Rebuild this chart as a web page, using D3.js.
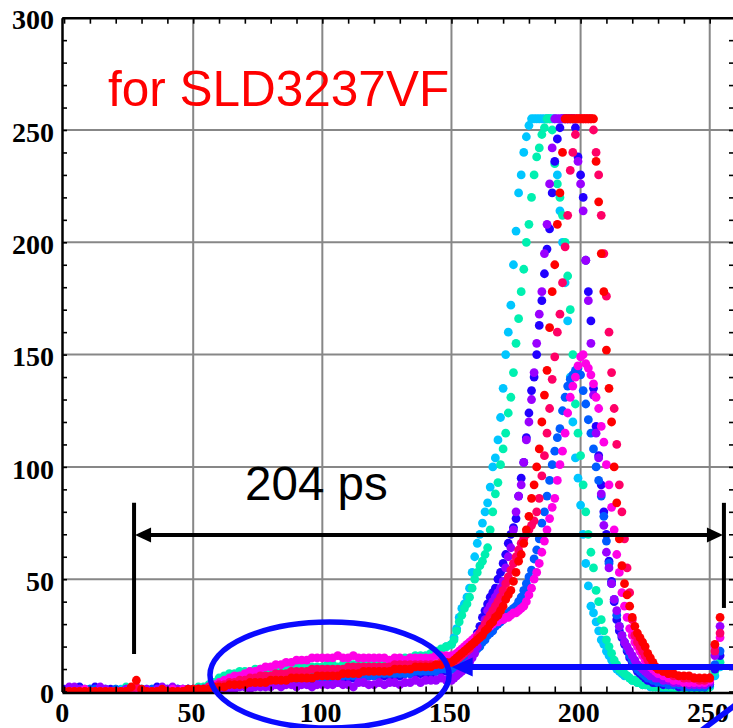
<!DOCTYPE html>
<html><head><meta charset="utf-8">
<script src="https://cdn.jsdelivr.net/npm/d3@7"></script>
<style>body{margin:0;background:#fff}svg{display:block}</style>
</head><body>
<svg id="chart" width="733" height="728"></svg>
<script>
// ---------- data ----------
const xTickLabels = [0, 50, 100, 150, 200, 250];
const yTickLabels = [0, 50, 100, 150, 200, 250, 300];
const xMinorTicks = [0,10,20,30,40,50,60,70,80,90,100,110,120,130,140,150,160,170,180,190,200,210,220,230,240,250];
const yMinorTicks = [0,10,20,30,40,50,60,70,80,90,100,110,120,130,140,150,160,170,180,190,200,210,220,230,240,250,260,270,280,290,300];

const sampleT = [
0,2,4,6,8,10,12,14,16,18,
20,22,24,26,28,30,32,34,36,38,
40,42,44,46,48,50,52,54,56,58,
60,62,64,66,68,70,72,74,76,78,
80,82,84,86,88,90,92,94,96,98,
100,102,104,106,108,110,112,114,116,118,
120,122,124,126,128,130,132,134,136,138,
140,142,144,146,148,
150,151,152,153,154,155,156,157,158,159,
160,161,162,163,164,165,166,167,168,169,
170,171,172,173,174,175,176,177,178,179,
180,181,182,183,184,185,186,187,188,189,
190,191,192,193,194,195,196,197,198,199,
200,201,202,203,204,205,206,207,208,209,
210,211,212,213,214,215,216,217,218,219,
220,221,222,223,224,225,226,227,228,229,
230,
232,234,236,238,240,242,244,246,248,250,252,254];

const cyanY = [
0,1,0,1,0,1,0,0,1,0, 0,1,0,1,1,0,1,0,1,0, 1,0,1,1,0,1,1,1,2,2, 3,3,4,4,5,5,5,6,6,6,
6,7,7,7,7,7,8,8,8,8, 8,8,9,9,9,9,9,10,10,10, 10,11,11,12,12,13,13,14,14,15, 15,16,17,18,20,
21,24,28,33,37,39,42,46,53,60, 66,70,75,80,84,91,100,104,112,122,
135,150,160,172,190,205,222,230,240,247, 252,255,255,255,255,255,255,255,255,255,
255,230,214,200,182,165,140,120,104,95, 83,70,57,47,38,35,31,27,23,21,
18,16,14,12,10,9,8,7,7,6, 5,5,4,4,3,3,3,2,2,2, 2,
1,1,1,1,1,1,1,1,1,2,7,11];

const aquaY = [
0,0,1,0,0,1,0,1,0,0, 1,0,2,1,0,1,0,1,0,1, 0,1,1,0,1,1,2,2,3,4, 6,7,8,8,9,9,9,10,10,10,
10,10,10,10,11,11,11,11,11,11, 11,12,12,11,12,12,12,12,12,12, 12,13,13,13,14,14,15,15,16,16, 16,17,18,19,20,
21,23,27,31,34,37,39,42,46,50, 53,56,58,61,64,72,80,88,93,101,
108,115,124,131,142,155,166,178,188,200, 208,220,230,238,242,248,251,255,255,250,
235,226,220,212,200,185,170,150,128,115, 105,92,80,70,62,55,45,40,32,27,
23,20,17,14,12,10,9,8,7,6, 5,5,4,4,3,3,3,3,2,2, 2,
2,2,1,1,1,1,1,1,1,2,9,13];

const blueY = [
1,0,1,2,1,0,2,0,0,1, 0,0,1,0,1,0,0,0,2,1, 0,1,0,1,1,0,1,1,1,1, 2,2,2,2,3,3,3,3,3,4,
4,4,4,4,4,5,5,5,5,5, 5,5,5,6,6,6,6,6,6,7, 7,7,7,7,7,7,8,8,8,8, 8,8,9,9,9,
10,11,12,13,14,15,17,19,21,23, 26,29,33,36,39,42,44,46,50,53,
57,61,66,70,73,77,87,95,102,113, 124,134,140,150,163,174,186,197,206,222,
236,246,251,255,255,255,255,255,251,238, 230,220,192,178,165,135,118,105,92,80,
70,58,49,40,32,27,24,21,18,15, 13,11,9,8,7,6,5,5,4,4, 4,
3,3,3,2,2,2,2,2,2,3,10,16];

const azureY = [
0,1,0,1,0,1,1,0,1,0, 1,0,0,1,0,1,0,1,1,0, 1,0,1,0,1,1,1,1,2,2, 2,3,3,3,3,4,4,4,4,4,
4,5,5,5,5,5,6,6,6,6, 6,6,6,6,7,7,7,7,7,7, 7,8,8,8,8,8,8,8,9,9, 9,9,9,10,10,
10,10,11,12,13,14,15,16,17,18, 19,20,22,23,25,26,27,29,30,31,
32,34,35,36,37,38,40,42,45,48, 51,54,59,63,68,75,80,87,94,101,
107,113,117,125,131,136,139,141,143,144, 141,134,128,121,115,108,100,94,87,78,
67,57,48,41,34,29,25,22,19,16, 14,12,10,9,8,7,6,6,5,5, 4,
4,3,3,3,2,2,2,2,2,3,12,18];

const purpleY = [
0,2,2,1,0,0,0,2,1,0, 0,0,1,0,0,0,1,0,1,2, 1,2,1,0,1,0,1,1,1,1, 1,1,1,1,2,2,1,2,2,2,
2,3,2,3,3,2,3,3,2,3, 3,3,3,4,3,3,2,4,4,3, 3,4,3,4,4,3,4,4,5,4, 5,5,5,6,5,
5,6,7,8,9,10,12,13,15,17, 20,24,28,32,36,38,40,42,44,46,
49,55,60,64,72,80,87,92,102,112, 120,130,142,155,168,178,195,208,226,242,
255,255,255,255,255,255,255,255,255,236, 226,214,192,174,155,132,115,104,88,74,
62,55,48,41,36,29,25,22,20,18, 16,14,12,11,10,9,8,7,7,6, 6,
5,5,4,4,4,3,3,3,3,4,16,29];

const magentaY = [
0,0,0,0,1,0,0,0,0,0, 0,0,0,0,1,0,0,0,0,1, 0,1,0,1,0,1,1,1,2,3, 4,5,6,7,7,8,9,9,10,11,
11,12,12,13,13,14,14,14,15,15, 15,15,15,16,15,15,16,15,15,15, 15,15,15,14,15,15,14,15,15,15, 15,15,16,16,16,
16,16,17,18,19,20,21,22,23,24, 25,26,27,28,29,29,30,31,31,32,
32,33,33,34,35,35,36,37,38,40, 43,46,50,53,57,62,67,72,77,82,
86,94,101,107,115,124,131,136,140,145, 149,150,146,144,141,137,131,126,118,111,
101,92,82,72,61,53,44,38,33,28, 25,22,20,18,16,14,13,11,10,9, 8,
7,6,5,5,4,4,4,4,4,5,20,24];

const roseY = [
0,0,0,0,0,0,0,0,0,0, 0,0,0,0,2,0,0,0,0,0, 0,0,0,0,0,1,1,1,2,2, 3,3,4,4,5,5,6,6,7,7,
7,8,8,8,9,9,9,9,10,10, 10,10,10,10,10,11,11,11,11,11, 11,11,11,11,12,12,12,12,12,12, 12,12,12,13,13,
13,13,14,15,16,17,18,19,21,22, 24,26,28,30,32,34,36,38,40,42,
45,48,51,54,57,60,63,66,68,70, 72,74,76,80,86,96,105,115,126,139,
149,160,168,182,198,212,232,240,248,255, 255,255,255,255,255,250,240,230,212,195,
176,160,142,126,110,92,80,68,55,44, 32,25,22,20,18,16,14,13,12,11, 10,
9,8,7,7,6,6,6,5,5,6,18,26];

const redY = [
0,0,0,0,0,0,0,0,0,0, 0,0,0,2,5,1,0,0,0,1, 0,0,0,0,1,1,1,1,1,2, 2,2,3,3,3,3,4,4,4,4,
5,5,5,5,6,6,6,6,6,7, 7,7,7,7,8,8,8,8,9,9, 9,9,9,9,10,10,10,10,11,11, 11,11,12,12,13,
13,14,15,16,17,18,19,20,21,22, 23,24,25,27,28,30,31,33,34,36,
38,41,43,45,49,53,58,61,66,72, 78,86,92,100,108,120,132,143,162,178,
190,208,222,240,255,255,255,255,255,255, 255,255,255,255,255,255,236,218,195,178,
152,135,120,100,84,68,56,48,43,38, 33,29,26,24,22,20,17,15,13,11, 10,
9,8,8,7,7,7,6,6,6,6,21,33];

const seriesValues = [cyanY, aquaY, blueY, azureY, purpleY, magentaY, roseY, redY];
const seriesColors = ["#00c6ff", "#00f0b0", "#2200ff", "#005cff", "#9a00ff", "#ff00e6", "#ff0066", "#ff0000"];

// annotations (data units)
const titleText = "for SLD3237VF";
const spanText = "204 ps";
const spanStart = 27.1, spanEnd = 255.5, spanLevel = 69.7;
const spanBarTop = 84, spanBarBottomL = 16.7, spanBarBottomR = 37.2;
const ellipseCenter = [102.8, 7.35], ellipseRadii = [46.3, 23.6];
const arrowLevel = 10.9, arrowTip = 150.1;

// ---------- chart ----------
const svg = d3.select("#chart");
const pL = 62, pR = 734, pT = 17.7, pB = 691.5;
const x = d3.scaleLinear().domain([-0.8, 259.4]).range([pL, pR]);
const y = d3.scaleLinear().domain([0, 300]).range([pB, pT]);

svg.append("defs").append("clipPath").attr("id", "plotclip")
  .append("rect").attr("x", pL).attr("y", pT).attr("width", pR - pL).attr("height", pB - pT + 1);

// grid
const grid = svg.append("g").attr("stroke", "#878787").attr("stroke-width", 2);
grid.selectAll("line.v").data(xTickLabels.filter(d => d > 0)).join("line").attr("class", "v")
  .attr("x1", d => x(d)).attr("x2", d => x(d)).attr("y1", pT).attr("y2", pB);
grid.selectAll("line.h").data(yTickLabels.filter(d => d > 0 && d < 300)).join("line").attr("class", "h")
  .attr("y1", d => y(d)).attr("y2", d => y(d)).attr("x1", pL).attr("x2", pR);

// points
const pts = svg.append("g").attr("clip-path", "url(#plotclip)");
seriesValues.forEach((vals, si) => {
  pts.append("g").attr("fill", seriesColors[si])
    .selectAll("circle").data(vals.map((v, i) => [sampleT[i], v])).join("circle")
    .attr("cx", d => x(d[0])).attr("cy", d => y(d[1])).attr("r", 4.4);
});

// axes
const fontLab = "'Liberation Serif','Times New Roman',serif";
function styleAxis(g) {
  g.select(".domain").attr("stroke", "#000").attr("stroke-width", 2.5);
  g.selectAll(".tick line").attr("stroke", "#000").attr("stroke-width", 1.6);
  g.selectAll("text").attr("font-family", fontLab).attr("font-size", 28).attr("font-weight", "bold").attr("fill", "#000");
}
svg.append("g").attr("transform", `translate(0,${pB + 1})`)
  .call(d3.axisBottom(x).tickValues(xMinorTicks).tickSize(-6).tickSizeOuter(0).tickPadding(10)
    .tickFormat(d => xTickLabels.includes(d) ? d : ""))
  .call(styleAxis)
  .call(g => g.selectAll("text").attr("dx", "-0.08em"));
svg.append("g").attr("transform", `translate(0,${pT})`)
  .call(d3.axisTop(x).tickValues(xMinorTicks).tickSize(-6).tickSizeOuter(0).tickFormat(""))
  .call(styleAxis);
svg.append("g").attr("transform", `translate(${pL},0)`)
  .call(d3.axisLeft(y).tickValues(yMinorTicks).tickSize(-5).tickSizeOuter(0).tickPadding(8)
    .tickFormat(d => yTickLabels.includes(d) ? d : ""))
  .call(styleAxis)
  .call(g => g.selectAll("text").attr("dy", "0.4em"));
svg.append("g").attr("transform", `translate(${pR},0)`)
  .call(d3.axisRight(y).tickValues(yMinorTicks).tickSize(-5).tickSizeOuter(0).tickFormat(""))
  .call(styleAxis);

// annotations
svg.append("text").attr("x", x(17)).attr("y", y(260.7)).text(titleText)
  .attr("font-family", "'Liberation Sans',Arial,sans-serif").attr("font-size", 49.5).attr("fill", "#ff0000");
svg.append("text").attr("x", x(70.1)).attr("y", y(85.3)).text(spanText)
  .attr("font-family", "'Liberation Sans',Arial,sans-serif").attr("font-size", 47.5).attr("fill", "#000");

const ann = svg.append("g");
ann.append("line").attr("x1", x(spanStart) + 14).attr("x2", x(spanEnd) - 14)
  .attr("y1", y(spanLevel)).attr("y2", y(spanLevel)).attr("stroke", "#000").attr("stroke-width", 4);
ann.append("line").attr("x1", x(spanStart)).attr("x2", x(spanStart))
  .attr("y1", y(spanBarTop)).attr("y2", y(spanBarBottomL)).attr("stroke", "#000").attr("stroke-width", 4);
ann.append("line").attr("x1", x(spanEnd)).attr("x2", x(spanEnd))
  .attr("y1", y(spanBarTop)).attr("y2", y(spanBarBottomR)).attr("stroke", "#000").attr("stroke-width", 4);
const ay = y(spanLevel);
ann.append("path").attr("fill", "#000")
  .attr("d", `M${x(spanStart) + 1},${ay} L${x(spanStart) + 17},${ay - 7.5} L${x(spanStart) + 17},${ay + 7.5} Z`);
ann.append("path").attr("fill", "#000")
  .attr("d", `M${x(spanEnd) - 1},${ay} L${x(spanEnd) - 17},${ay - 7.5} L${x(spanEnd) - 17},${ay + 7.5} Z`);

// blue highlight
const blue = "#0a0aff";
const ecx = x(ellipseCenter[0]), ecy = y(ellipseCenter[1]);
ann.append("ellipse").attr("cx", ecx).attr("cy", ecy)
  .attr("rx", x(ellipseCenter[0] + ellipseRadii[0]) - ecx).attr("ry", ecy - y(ellipseCenter[1] + ellipseRadii[1]))
  .attr("fill", "none").attr("stroke", blue).attr("stroke-width", 5.5);
const by = y(arrowLevel);
ann.append("line").attr("x1", x(arrowTip) + 18).attr("x2", 745).attr("y1", by).attr("y2", by)
  .attr("stroke", blue).attr("stroke-width", 6);
ann.append("path").attr("fill", blue)
  .attr("d", `M${x(arrowTip)},${by} L${x(arrowTip) + 21},${by - 9.5} L${x(arrowTip) + 21},${by + 9.5} Z`);
ann.append("line").attr("x1", x(246.5)).attr("y1", 731).attr("x2", x(263)).attr("y2", 699)
  .attr("stroke", blue).attr("stroke-width", 5.5);
</script>
</body></html>
